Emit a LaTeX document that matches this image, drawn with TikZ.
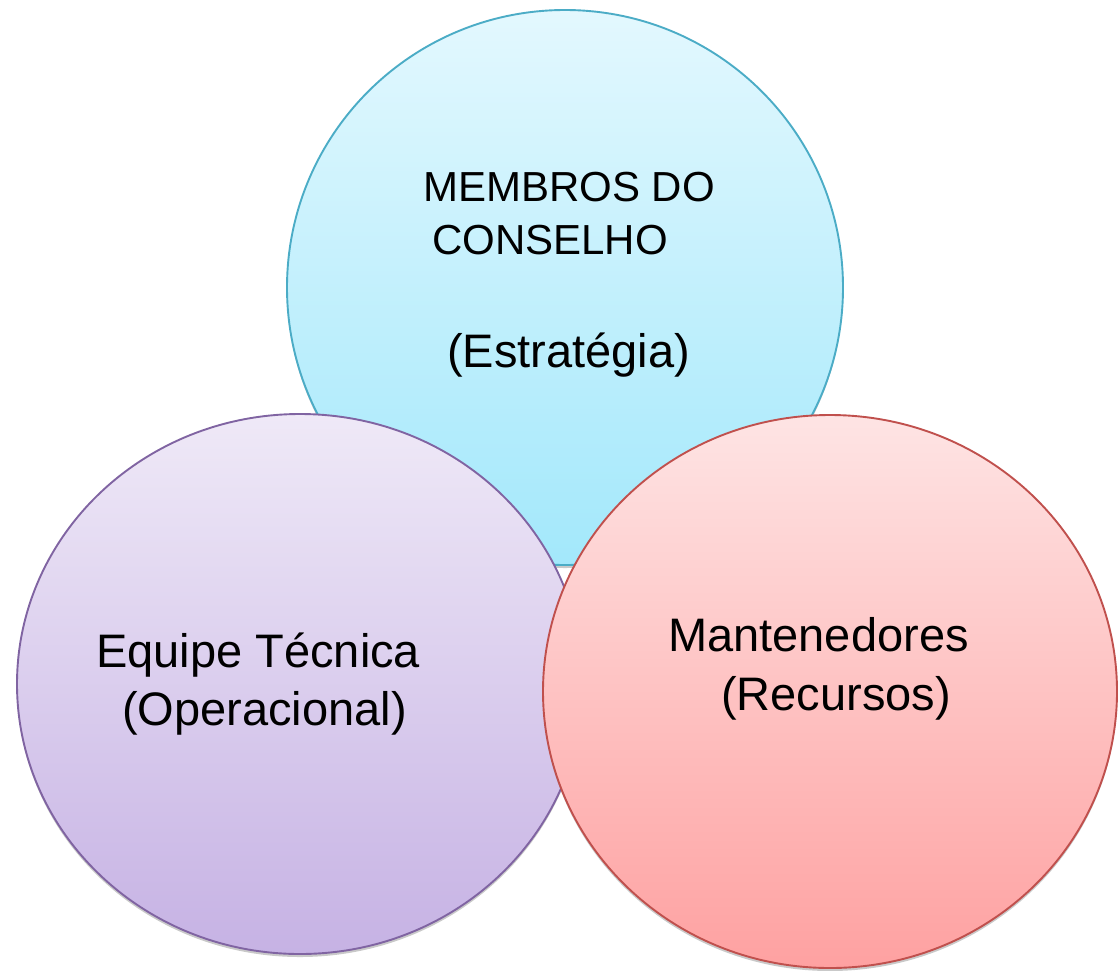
\documentclass[tikz,border=0pt]{standalone}
\usepackage{fontspec}
\setmainfont{Liberation Sans}
\usetikzlibrary{shapes.geometric,shadows}

\definecolor{cyanTop}{HTML}{E3F8FE}
\definecolor{cyanBot}{HTML}{A3E8FB}
\definecolor{cyanLine}{HTML}{4BACC6}
\definecolor{lilaTop}{HTML}{EFE9F7}
\definecolor{lilaBot}{HTML}{C6B2E4}
\definecolor{lilaLine}{HTML}{8064A2}
\definecolor{roseTop}{HTML}{FEE4E4}
\definecolor{roseBot}{HTML}{FEA1A1}
\definecolor{roseLine}{HTML}{C0504D}

\begin{document}
\begin{tikzpicture}[x=1pt,y=-1pt]
    \tikzset{
    blob/.style={ellipse,inner sep=0pt,line width=1.9pt,
        drop shadow={shadow xshift=0pt,shadow yshift=-3pt,opacity=0.3,fill=black!70}},
    b1/.style={blob,draw=cyanLine,top color=cyanTop,bottom color=cyanBot},
    b2/.style={blob,draw=lilaLine,top color=lilaTop,bottom color=lilaBot},
    b3/.style={blob,draw=roseLine,top color=roseTop,bottom color=roseBot},
    lbl/.style={anchor=base west,inner sep=0pt,font=\fontsize{47}{56}\selectfont},
    lbs/.style={lbl,font=\fontsize{42}{50}\selectfont},
    }
    \useasboundingbox (0,0) rectangle (1118,970);

    \node[b1,minimum width=556pt,minimum height=555pt] (conselho) at (565,287.5) {};
    \node[b2,minimum width=566pt,minimum height=540pt] (equipe) at (300,684) {};
    \node[b3,minimum width=574pt,minimum height=553pt] (mant) at (830,691.5) {};

    \node[lbs] (t1) at (423,201) {MEMBROS DO};
    \node[lbs] (t2) at (432,254) {CONSELHO};
    \node[lbl] (t3) at (447,367) {(Estratégia)};

    \node[lbl] (t4) at (96,667) {Equipe Técnica};
    \node[lbl] (t5) at (122,725) {(Operacional)};

    \node[lbl] (t6) at (668,651) {Mantenedores};
    \node[lbl] (t7) at (721,710) {(Recursos)};

\end{tikzpicture}
\end{document}
